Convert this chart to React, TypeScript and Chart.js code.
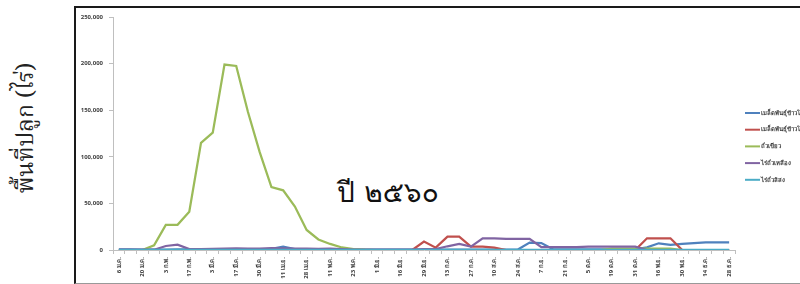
import React, { useEffect, useRef } from "react";
import { Chart, registerables } from "chart.js";

Chart.register(...registerables);

const categories = [
  "6 ม.ค.", "13 ม.ค.", "20 ม.ค.", "27 ม.ค.", "3 ก.พ.", "10 ก.พ.", "17 ก.พ.", "24 ก.พ.",
  "3 มี.ค.", "10 มี.ค.", "17 มี.ค.", "24 มี.ค.", "30 มี.ค.", "4 เม.ย.", "11 เม.ย.", "21 เม.ย.",
  "28 เม.ย.", "4 พ.ค.", "11 พ.ค.", "18 พ.ค.", "23 พ.ค.", "26 พ.ค.", "1 มิ.ย.", "9 มิ.ย.",
  "16 มิ.ย.", "23 มิ.ย.", "29 มิ.ย.", "6 ก.ค.", "13 ก.ค.", "20 ก.ค.", "27 ก.ค.", "3 ส.ค.",
  "10 ส.ค.", "17 ส.ค.", "24 ส.ค.", "31 ส.ค.", "7 ก.ย.", "14 ก.ย.", "21 ก.ย.", "28 ก.ย.",
  "5 ต.ค.", "12 ต.ค.", "19 ต.ค.", "26 ต.ค.", "31 ต.ค.", "9 พ.ย.", "16 พ.ย.", "23 พ.ย.",
  "30 พ.ย.", "7 ธ.ค.", "14 ธ.ค.", "21 ธ.ค.", "28 ธ.ค.",
];

const seriesNames = [
  "เมล็ดพันธุ์ข้าวโพดเลี้ยงสัตว์",
  "เมล็ดพันธุ์ข้าวโพดหวาน",
  "ถั่วเขียว",
  "ไร่ถั่วเหลือง",
  "ไร่ถั่วลิสง",
];

const seriesColors = ["#4F81BD", "#C0504D", "#9BBB59", "#8064A2", "#4BACC6"];

const blueValues = [
  800, 600, 300, 300, 500, 800, 800, 800, 800, 1000, 1000, 800, 800, 1200, 3500, 1000,
  800, 800, 800, 500, 300, 300, 300, 300, 300, 300, 300, 300, 300, 300, 300, 300,
  300, 300, 500, 8000, 7500, 800, 800, 800, 800, 800, 800, 800, 800, 2900, 7200, 5400,
  6500, 7500, 8300, 8300, 8300,
];

const redValues = [
  0, 0, 0, 0, 0, 0, 0, 0, 0, 0, 0, 0, 0, 0, 0, 0,
  0, 0, 0, 0, 0, 0, 0, 0, 0, 0, 9000, 2500, 14300, 14300, 3600, 3600,
  2500, 0, 0, 0, 0, 0, 0, 0, 0, 0, 0, 0, 0, 12600, 12600, 12600,
  0, 0, 0, 0, 0,
];

const greenValues = [
  0, 0, 0, 5000, 27000, 27000, 41000, 115000, 126000, 199000, 197500, 148000, 105000, 67500, 64000, 46700,
  21500, 11300, 6500, 2700, 1000, 300, 0, 0, 0, 0, 0, 0, 0, 0, 0, 0,
  0, 0, 0, 0, 0, 0, 0, 0, 0, 0, 1400, 1400, 1400, 1400, 1400, 1400,
  0, 0, 0, 0, 0,
];

const purpleValues = [
  500, 500, 300, 300, 4300, 5700, 1000, 1000, 1200, 1500, 1800, 1500, 1500, 2000, 1800, 1500,
  1500, 1200, 1500, 1000, 500, 300, 300, 300, 300, 400, 1000, 1000, 4000, 6500, 3600, 12600,
  12500, 12000, 12000, 12000, 3000, 3000, 3000, 3200, 3500, 3500, 3500, 3500, 3500, 0, 0, 0,
  0, 0, 0, 0, 0,
];

const cyanValues = [
  200, 200, 200, 200, 200, 200, 200, 200, 200, 200, 200, 200, 200, 200, 200, 200,
  200, 200, 200, 200, 200, 200, 200, 200, 200, 200, 200, 200, 200, 200, 200, 200,
  200, 200, 200, 200, 200, 200, 200, 200, 200, 200, 200, 200, 200, 200, 200, 200,
  200, 200, 200, 200, 200,
];

const seriesValues = [blueValues, redValues, greenValues, purpleValues, cyanValues];

const yMin = 0;
const yMax = 250000;
const yStep = 50000;

const yTitle = "พื้นที่ปลูก (ไร่)";
const yearText = "ปี ๒๕๖๐";

const tickFont = "'Noto Sans', 'DejaVu Sans', sans-serif";
const thaiSerif = "Norasi, 'Noto Serif Thai', Kinnari, 'TlwgTypewriter', serif";
const thaiLoop = "Loma, Garuda, 'Noto Sans Thai Looped', 'Noto Sans Thai', sans-serif";

export default function App() {
  const ref = useRef<HTMLCanvasElement>(null);

  useEffect(() => {
    if (!ref.current) return;
    const sideLegend = {
      id: "sideLegend",
      afterDraw(chart: any) {
        const ctx = chart.ctx;
        ctx.save();
        chart.data.datasets.forEach((ds: any, i: number) => {
          const y = 113 + i * 16.7;
          ctx.strokeStyle = ds.borderColor;
          ctx.lineWidth = 2;
          ctx.beginPath();
          ctx.moveTo(745, y);
          ctx.lineTo(760, y);
          ctx.stroke();
          ctx.fillStyle = "#404040";
          ctx.font = `bold 6px ${tickFont}`;
          ctx.textBaseline = "middle";
          ctx.textAlign = "left";
          ctx.fillText(ds.label, 761, y);
        });
        ctx.restore();
      },
    };

    const chart = new Chart(ref.current, {
      type: "line",
      data: {
        labels: categories,
        datasets: seriesNames.map((name, i) => ({
          label: name,
          data: seriesValues[i],
          borderColor: seriesColors[i],
          backgroundColor: seriesColors[i],
          borderWidth: 2.25,
          pointRadius: 0,
          tension: 0,
          fill: false,
          order: seriesNames.length - i,
        })),
      },
      options: {
        animation: false,
        responsive: false,
        events: [],
        layout: { padding: { left: 0, right: 65, top: 17, bottom: 0 } },
        plugins: { legend: { display: false }, tooltip: { enabled: false } },
        scales: {
          x: {
            offset: true,
            grid: {
              display: true,
              drawOnChartArea: false,
              drawTicks: true,
              tickLength: 4,
              color: "#BFBFBF",
              offset: true,
            },
            border: { display: true, color: "#BFBFBF" },
            ticks: {
              autoSkip: false,
              maxRotation: 90,
              minRotation: 90,
              padding: 3,
              color: "#404040",
              font: { size: 6, weight: "bold", family: tickFont },
              callback: (_v: any, i: number) => (i % 2 === 0 ? categories[i] : ""),
            },
            afterFit: (s: any) => {
              s.height = 34;
            },
          },
          y: {
            min: yMin,
            max: yMax,
            grid: {
              display: true,
              drawOnChartArea: false,
              drawTicks: true,
              tickLength: 4,
              color: "#BFBFBF",
            },
            border: { display: true, color: "#BFBFBF" },
            ticks: {
              stepSize: yStep,
              padding: 6,
              color: "#404040",
              font: { size: 6, weight: "bold", family: tickFont },
              callback: (v: any) => Number(v).toLocaleString("en-US"),
            },
            afterFit: (s: any) => {
              s.width = 113;
            },
          },
        },
      },
      plugins: [sideLegend],
    });
    return () => chart.destroy();
  }, []);

  return (
    <div
      style={{
        position: "fixed",
        left: 0,
        top: 0,
        width: 800,
        height: 284,
        overflow: "hidden",
        background: "#fff",
      }}
    >
      <div
        style={{
          position: "absolute",
          left: 74,
          top: 6,
          width: 760,
          height: 275,
          borderTop: "2px solid #1a1a1a",
          borderLeft: "2px solid #1a1a1a",
          borderBottom: "1px solid #999",
        }}
      />
      <div
        style={{
          position: "absolute",
          left: 27 - 100,
          top: 128 - 15,
          width: 200,
          height: 30,
          lineHeight: "30px",
          textAlign: "center",
          fontSize: 23,
          fontWeight: 400,
          fontFamily: thaiSerif,
          color: "#222",
          transform: "rotate(-90deg)",
          transformOrigin: "50% 50%",
          whiteSpace: "nowrap",
        }}
      >
        {yTitle}
      </div>
      <div
        style={{
          position: "absolute",
          left: 337,
          top: 172,
          fontSize: 28,
          lineHeight: "40px",
          fontWeight: 400,
          fontFamily: thaiLoop,
          color: "#111",
          whiteSpace: "nowrap",
        }}
      >
        {yearText}
      </div>
      <canvas
        ref={ref}
        width={800}
        height={284}
        style={{ position: "absolute", left: 0, top: 0, width: 800, height: 284 }}
      />
    </div>
  );
}
